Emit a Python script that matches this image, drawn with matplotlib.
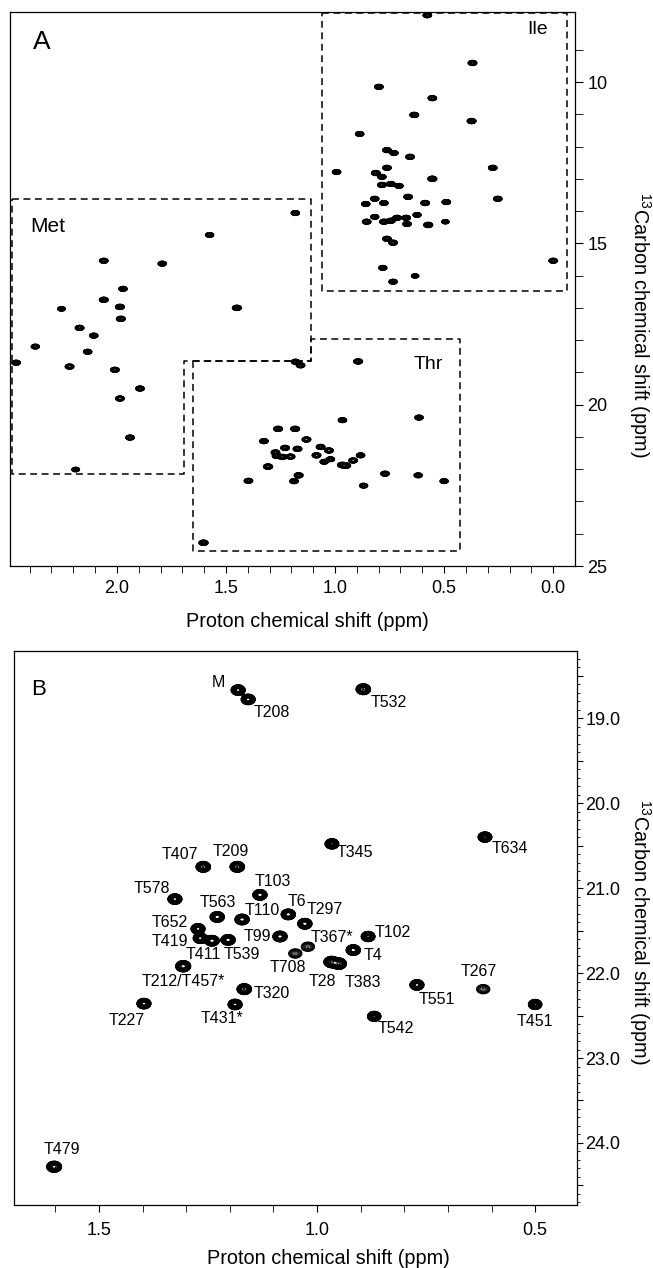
import numpy as np
import matplotlib.pyplot as plt
from matplotlib.ticker import FixedLocator, FuncFormatter

plt.rcParams['font.family'] = ['Liberation Sans', 'DejaVu Sans']
plt.rcParams['mathtext.default'] = 'regular'

# Thr methyl peaks (panel B), 1H shift / 13C shift in ppm
thr_names = ["M", "T208", "T532", "T345", "T634", "T407", "T209", "T103",
             "T578", "T563", "T110", "T6", "T297", "T652", "T419", "T411",
             "T539", "T99", "T367*", "T708", "T102", "T4", "T28", "T383",
             "T212/T457*", "T227", "T320", "T431*", "T542", "T551", "T267",
             "T451", "T479"]
thr_h = [1.181, 1.158, 0.894, 0.966, 0.615, 1.261, 1.183, 1.131,
         1.326, 1.229, 1.172, 1.066, 1.028, 1.273, 1.268, 1.241,
         1.204, 1.085, 1.021, 1.050, 0.883, 0.917, 0.967, 0.950,
         1.307, 1.397, 1.167, 1.188, 0.869, 0.771, 0.619,
         0.500, 1.603]
thr_c = [18.67, 18.78, 18.66, 20.48, 20.40, 20.75, 20.75, 21.08,
         21.13, 21.34, 21.37, 21.31, 21.42, 21.48, 21.59, 21.62,
         21.61, 21.57, 21.69, 21.77, 21.57, 21.73, 21.87, 21.89,
         21.92, 22.36, 22.19, 22.37, 22.51, 22.14, 22.19,
         22.37, 24.28]
thr_amp = [1.0, 1.0, 1.2, 0.9, 0.9, 1.2, 1.2, 1.1,
           1.0, 1.1, 1.1, 1.1, 1.1, 1.0, 1.0, 1.1,
           1.1, 1.1, 0.8, 0.8, 0.9, 1.1, 1.6, 1.6,
           1.5, 1.0, 1.2, 1.0, 0.8, 1.0, 0.8,
           0.8, 1.4]
# peaks drawn with open, thin contours
thr_open = ["T367*", "T708", "T267"]

# Met methyl peaks (panel A)
met_h = [1.182, 1.575, 2.060, 1.792, 1.972, 2.060, 1.986, 2.254, 1.450, 1.982,
         2.171, 2.106, 2.374, 2.134, 2.462, 2.217, 2.009, 1.894, 1.986, 1.940,
         2.189]
met_c = [14.06, 14.74, 15.54, 15.63, 16.41, 16.75, 16.97, 17.03, 17.00, 17.34,
         17.62, 17.86, 18.20, 18.36, 18.70, 18.82, 18.92, 19.50, 19.81, 21.02,
         22.01]
met_amp = [0.9, 0.8, 1.0, 0.9, 0.9, 1.2, 1.3, 0.6, 1.3, 1.2,
           1.1, 0.9, 0.8, 0.9, 1.0, 1.1, 1.1, 1.0, 1.1, 1.0,
           0.6]

# Ile delta-methyl peaks (panel A)
ile_h = [0.577, 0.370, 0.799, 0.554, 0.637, 0.374, 0.887, 0.762, 0.730, 0.656,
         0.993, 0.813, 0.762, 0.277, 0.785, 0.785, 0.744, 0.707, 0.554, 0.254,
         0.818, 0.859, 0.776, 0.665, 0.587, 0.490, 0.624, 0.494, 0.818, 0.855,
         0.776, 0.744, 0.716, 0.674, 0.670, 0.573, 0.762, 0.734, 0.000, 0.781,
         0.633, 0.734]
ile_c = [7.93, 9.41, 10.15, 10.50, 11.02, 11.21, 11.61, 12.11, 12.20, 12.32,
         12.79, 12.82, 12.66, 12.66, 12.94, 13.19, 13.16, 13.22, 13.00, 13.62,
         13.62, 13.78, 13.75, 13.56, 13.75, 13.72, 14.12, 14.33, 14.18, 14.33,
         14.33, 14.30, 14.21, 14.21, 14.40, 14.43, 14.86, 14.98, 15.54, 15.76,
         16.01, 16.19]
ile_amp = [1.0, 1.1, 1.0, 1.0, 1.2, 1.2, 0.9, 1.0, 0.9, 1.1,
           0.9, 1.1, 1.0, 1.0, 0.9, 1.1, 1.0, 0.9, 1.3, 1.0,
           0.9, 0.9, 0.9, 1.0, 1.1, 1.0, 0.8, 0.5, 0.8, 1.0,
           1.0, 1.0, 1.0, 1.0, 1.0, 1.3, 1.0, 1.0, 1.0, 0.8,
           0.5, 0.9]

# residue-type regions outlined in panel A (1H, 13C)
ile_box_h = [1.062, -0.065, -0.065, 1.062, 1.062]
ile_box_c = [7.86, 7.86, 16.47, 16.47, 7.86]
met_box_h = [2.480, 1.109, 1.109, 1.691, 1.691, 2.480, 2.480]
met_box_c = [13.62, 13.62, 18.64, 18.64, 22.14, 22.14, 13.62]
thr_box_h = [1.649, 1.109, 1.109, 0.425, 0.425, 1.649, 1.649]
thr_box_c = [18.64, 18.64, 17.96, 17.96, 24.55, 24.55, 18.64]

# label offsets for panel B (pixels, dx right, dy up)
label_off = {
    "M": (-20, 8), "T208": (24, -13), "T532": (25, -13), "T345": (23, -9),
    "T634": (25, -11), "T407": (-23, 12), "T209": (-7, 15), "T103": (13, 13),
    "T578": (-23, 11), "T563": (1, 14), "T110": (20, 9), "T6": (9, 13),
    "T297": (20, 14), "T652": (-28, 6), "T419": (-30, -3), "T411": (-9, -14),
    "T539": (14, -15), "T99": (-23, 0), "T367*": (24, 9), "T708": (-7, -14),
    "T102": (25, 4), "T4": (20, -5), "T28": (-9, -20), "T383": (24, -19),
    "T212/T457*": (0, -15), "T227": (-17, -17), "T320": (27, -4),
    "T431*": (-13, -14), "T542": (22, -12), "T551": (20, -15),
    "T267": (-4, 18), "T451": (0, -17), "T479": (8, 17),
}


def spectrum(xg, yg, h, c, amp, sx, sy):
    z = np.zeros((len(yg), len(xg)))
    for x0, y0, a in zip(h, c, amp):
        ix = np.abs(xg - x0) < 6 * sx
        iy = np.abs(yg - y0) < 6 * sy
        gx = np.exp(-(xg[ix] - x0) ** 2 / (2 * sx ** 2))
        gy = np.exp(-(yg[iy] - y0) ** 2 / (2 * sy ** 2))
        z[np.ix_(iy, ix)] += a * np.outer(gy, gx)
    return z


W, H = 653, 1268
fig = plt.figure(figsize=(W / 100, H / 100), dpi=100)

# ---------------- panel A ----------------
axA = fig.add_axes([10 / W, 1 - 566 / H, 565 / W, 554 / H])
xa = np.linspace(-0.12, 2.52, 1400)
ya = np.linspace(7.7, 25.1, 2000)
h_all = met_h + ile_h + thr_h
c_all = met_c + ile_c + thr_c
a_all = met_amp + ile_amp + thr_amp
za = spectrum(xa, ya, h_all, c_all, a_all, 0.0085, 0.034)
lev_a = np.concatenate([np.geomspace(0.06, 0.8, 14), [1.15, 1.6]])
axA.contour(xa, ya, za, levels=lev_a, colors='k', linewidths=0.7)

for bh, bc in [(ile_box_h, ile_box_c), (met_box_h, met_box_c), (thr_box_h, thr_box_c)]:
    axA.plot(bh, bc, color='k', lw=1.1, ls=(0, (4.5, 3)))

axA.set_xlim(2.49, -0.10)
axA.set_ylim(25.0, 7.83)
axA.xaxis.set_major_locator(FixedLocator([2.0, 1.5, 1.0, 0.5, 0.0]))
axA.xaxis.set_minor_locator(FixedLocator(np.round(np.arange(0.0, 2.45, 0.1), 2)))
axA.xaxis.set_major_formatter(FuncFormatter(lambda v, p: f"{v:.1f}"))
axA.yaxis.set_major_locator(FixedLocator([10, 15, 20, 25]))
axA.yaxis.set_minor_locator(FixedLocator(np.arange(9, 25)))
axA.yaxis.tick_right()
axA.yaxis.set_label_position('right')
axA.tick_params(which='both', direction='out', left=False, top=False, labelsize=13)
axA.tick_params(axis='x', which='both', length=5, pad=5)
axA.tick_params(axis='y', which='both', length=6, pad=3)
axA.set_xlabel("Proton chemical shift (ppm)", fontsize=14.3)
axA.xaxis.set_label_coords(0.526, -0.083)
axA.set_ylabel(r"$^{13}$Carbon chemical shift (ppm)", fontsize=14.3, rotation=270,
               va='center', ha='center')
axA.yaxis.set_label_coords(1.115, 0.435)

axA.text(0.057, 0.946, "A", transform=axA.transAxes, fontsize=19, ha='center', va='center')
axA.text(0.067, 0.612, "Met", transform=axA.transAxes, fontsize=15, ha='center', va='center')
axA.text(0.934, 0.968, "Ile", transform=axA.transAxes, fontsize=14, ha='center', va='center')
axA.text(0.740, 0.363, "Thr", transform=axA.transAxes, fontsize=14, ha='center', va='center')

# ---------------- panel B ----------------
axB = fig.add_axes([14 / W, 1 - 1205 / H, 563 / W, 554 / H])
xb = np.linspace(0.38, 1.72, 1600)
yb = np.linspace(18.1, 24.85, 1600)
closed = [i for i, n in enumerate(thr_names) if n not in thr_open]
opened = [i for i, n in enumerate(thr_names) if n in thr_open]
zb = spectrum(xb, yb, [thr_h[i] for i in closed], [thr_c[i] for i in closed],
              [thr_amp[i] for i in closed], 0.0068, 0.026)
zo = spectrum(xb, yb, [thr_h[i] for i in opened], [thr_c[i] for i in opened],
              [thr_amp[i] for i in opened], 0.0072, 0.026)
lev_b = np.concatenate([np.geomspace(0.06, 0.82, 26), [1.15, 1.5, 2.0, 2.6]])
axB.contour(xb, yb, zb, levels=lev_b, colors='k', linewidths=0.8)
axB.contour(xb, yb, zo, levels=np.geomspace(0.08, 0.75, 9), colors='k', linewidths=0.6)

for name, x0, y0 in zip(thr_names, thr_h, thr_c):
    dx, dy = label_off[name]
    axB.annotate(name, (x0, y0), xytext=(dx, dy), textcoords='offset pixels',
                 ha='center', va='center', fontsize=11.5,
                 family=['Liberation Sans Narrow', 'Liberation Sans'])

axB.set_xlim(1.695, 0.404)
axB.set_ylim(24.73, 18.21)
axB.xaxis.set_major_locator(FixedLocator([1.5, 1.0, 0.5]))
axB.xaxis.set_minor_locator(FixedLocator(np.round(np.arange(0.5, 1.65, 0.1), 2)))
axB.xaxis.set_major_formatter(FuncFormatter(lambda v, p: f"{v:.1f}"))
axB.yaxis.set_major_locator(FixedLocator(np.arange(18.5, 24.6, 0.5)))
axB.yaxis.set_minor_locator(FixedLocator(np.round(np.arange(18.3, 24.75, 0.1), 2)))
axB.yaxis.set_major_formatter(FuncFormatter(lambda v, p: f"{v:.1f}" if abs(v - round(v)) < 1e-6 else ""))
axB.yaxis.tick_right()
axB.yaxis.set_label_position('right')
axB.tick_params(which='both', direction='out', left=False, top=False, labelsize=13)
axB.tick_params(axis='x', which='both', length=5, pad=7)
axB.tick_params(axis='y', which='major', length=4, pad=2)
axB.tick_params(axis='y', which='minor', length=2)
axB.set_xlabel("Proton chemical shift (ppm)", fontsize=14.3)
axB.xaxis.set_label_coords(0.559, -0.079)
axB.set_ylabel(r"$^{13}$Carbon chemical shift (ppm)", fontsize=14.3, rotation=270,
               va='center', ha='center')
axB.yaxis.set_label_coords(1.112, 0.493)
axB.text(0.044, 0.931, "B", transform=axB.transAxes, fontsize=16, ha='center', va='center')

for ax in (axA, axB):
    for s in ax.spines.values():
        s.set_linewidth(0.9)

fig.savefig("out.png", dpi=100)
